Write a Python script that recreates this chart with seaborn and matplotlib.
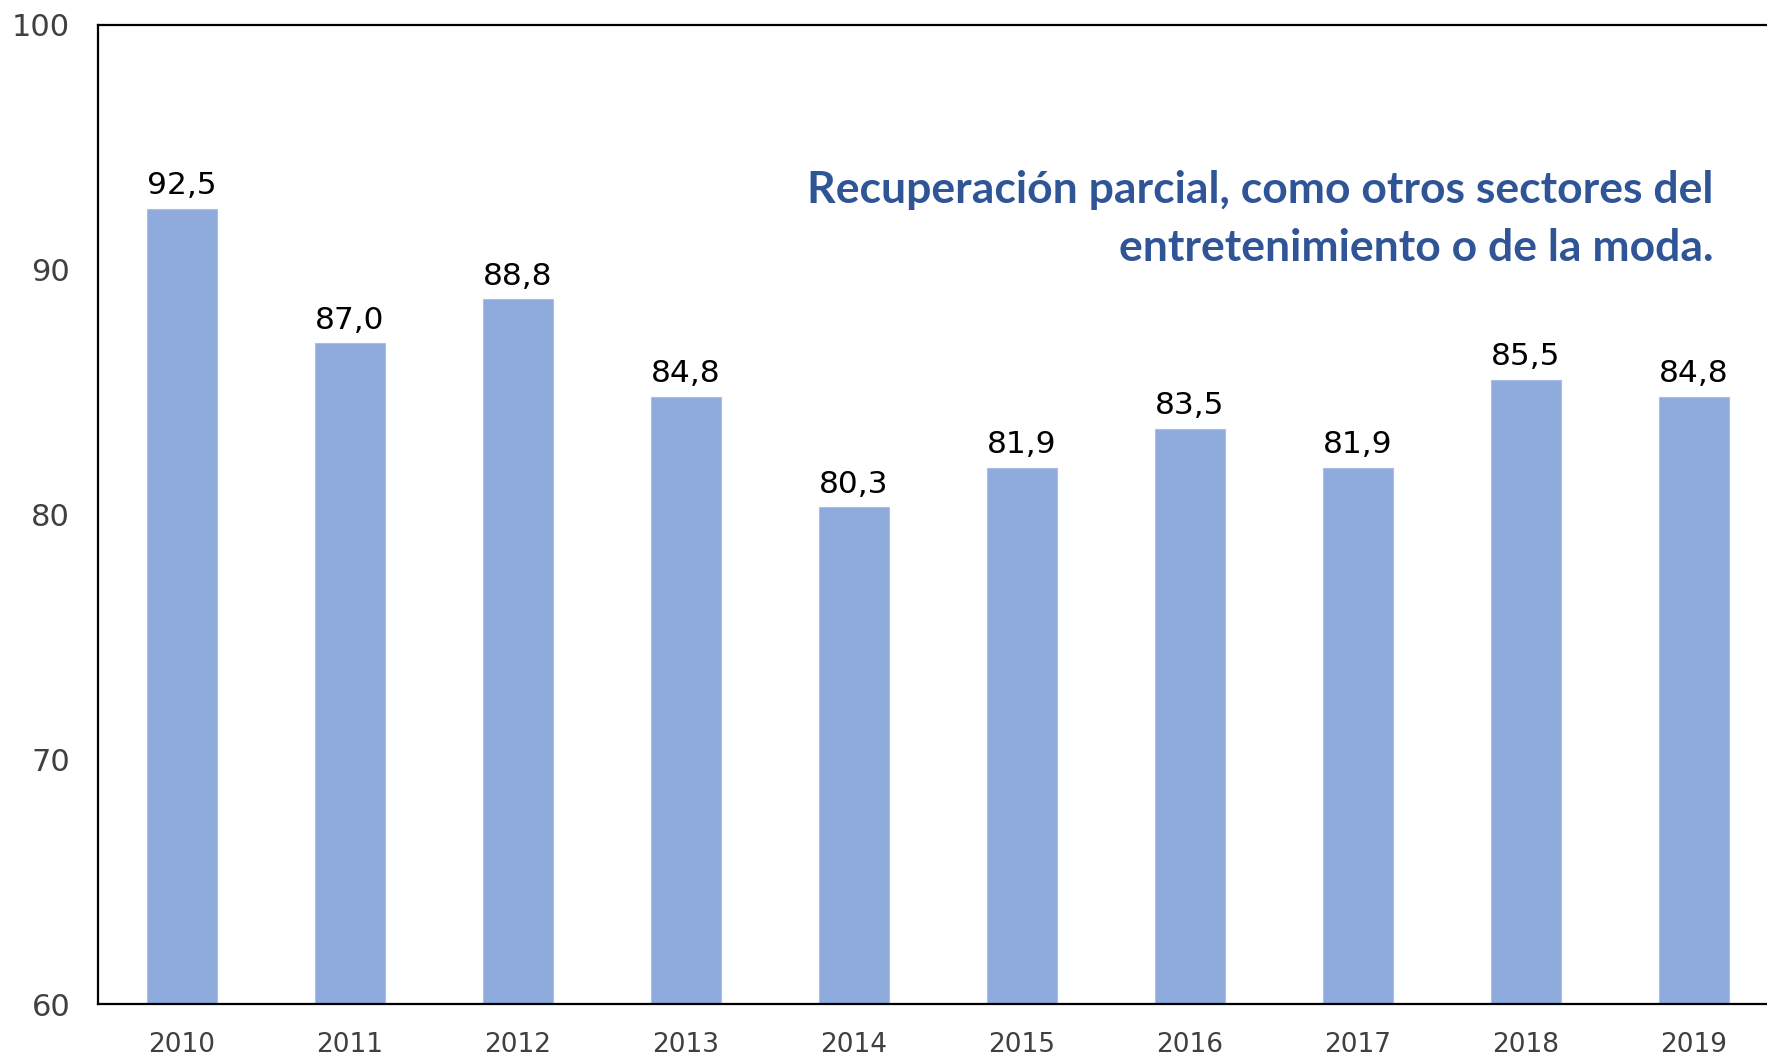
import numpy as np
import pandas as pd
import seaborn as sns
import matplotlib
matplotlib.use("Agg")
import matplotlib.pyplot as plt

years = ["2010", "2011", "2012", "2013", "2014", "2015", "2016", "2017", "2018", "2019"]
values = [92.5, 87.0, 88.8, 84.8, 80.3, 81.9, 83.5, 81.9, 85.5, 84.8]
note = "Recuperación parcial, como otros sectores del\nentretenimiento o de la moda."

df = pd.DataFrame({"Year": years, "Value": values})

sns.set_theme(style="white")
plt.rcParams["font.family"] = ["DejaVu Sans"]

fig = plt.figure(figsize=(17.67, 10.55), dpi=100)
W, H = 1767, 1055
ax = fig.add_axes([98 / W, 1 - 1004 / H, 1680 / W, (1004 - 25) / H])

sns.barplot(data=df, x="Year", y="Value", color="#8FAADC", saturation=1,
            width=0.42, edgecolor="#A9BFE6", linewidth=0.8, ax=ax)

ax.set_ylim(60, 100)
ax.set_xlim(-0.5, 9.5)
ax.set_yticks([60, 70, 80, 90, 100])
ax.set_xlabel("")
ax.set_ylabel("")
ax.tick_params(axis="both", length=0, labelcolor="#404040")
ax.tick_params(axis="y", labelsize=22, pad=20)
ax.tick_params(axis="x", labelsize=19, pad=20)
for s in ["left", "top", "bottom"]:
    ax.spines[s].set_color("black")
    ax.spines[s].set_linewidth(1.6)
ax.spines["right"].set_visible(False)

for i, v in enumerate(values):
    ax.text(i, v + 0.35, "{:.1f}".format(v).replace(".", ","), ha="center", va="bottom",
            fontsize=22.5, color="black")

fig.text(1713 / W, 1 - 170 / H, note, ha="right", va="top", fontsize=32,
         fontweight="bold", color="#2F5597", family=["Lato", "DejaVu Sans"],
         linespacing=1.55)

fig.savefig("out.png", dpi=100)
